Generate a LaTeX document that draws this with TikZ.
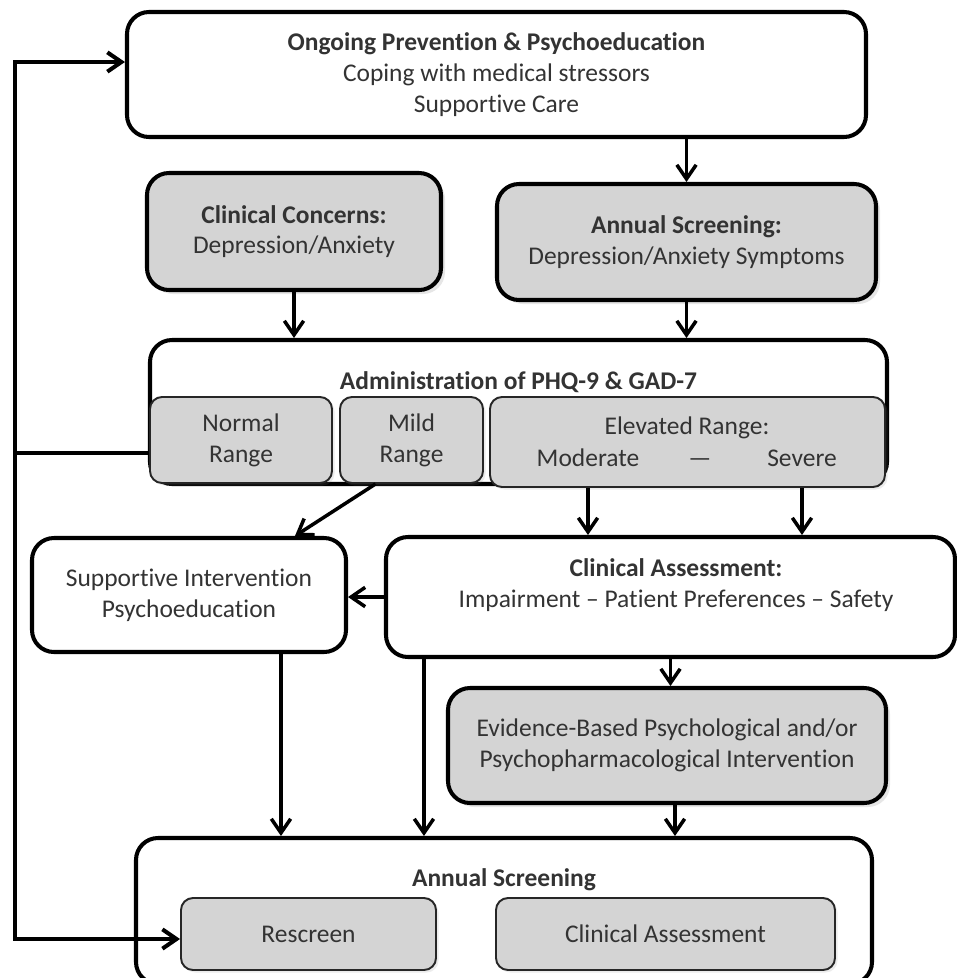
\documentclass[tikz,border=0pt]{standalone}
\usepackage{fontspec}
\setmainfont{Carlito}[Ligatures={TeX,NoCommon}]
\usetikzlibrary{arrows.meta, positioning, shadows}
\definecolor{boxgray}{RGB}{212,212,212}
\tikzset{
>={Straight Barb[length=8pt, width=11pt]}, % open arrow heads
boxsize/.style 2 args={minimum width=#1*0.02cm, minimum height=#2*0.02cm}, % size in pixels
every node/.style={font=\fontsize{14.5}{17.5}\selectfont, text=black!80},
bigbox/.style={draw=black, line width=2.3pt, rounded corners=0.44cm, fill=white, align=center, inner sep=0pt},
graybox/.style={bigbox, fill=boxgray, drop shadow={opacity=0.2, shadow xshift=0.08cm, shadow yshift=-0.08cm}}, % shaded main boxes
rangebox/.style={draw=black!85, line width=1.1pt, rounded corners=0.24cm, fill=boxgray, align=center, inner sep=0pt, drop shadow={opacity=0.15, shadow xshift=0.05cm, shadow yshift=-0.05cm}},
flow/.style={->, line width=2pt},
}

\begin{document}
\begin{tikzpicture}[x=0.02cm, y=-0.02cm]%one unit is one pixel of the page
  \useasboundingbox (0,0) rectangle (957,978);

  \node[bigbox, boxsize={739}{125}] (prevent) at (496.5,74.5) {\textbf{Ongoing Prevention \& Psychoeducation}\\Coping with medical stressors\\Supportive Care};
  \node[graybox, boxsize={294}{117}] (concerns) at (294,231.5) {\textbf{Clinical Concerns:}\\Depression/Anxiety};
  \node[graybox, boxsize={379}{116}] (annual) at (686.5,242) {\textbf{Annual Screening:}\\Depression/Anxiety Symptoms};

  % screening with its three ranges
  \node[bigbox, boxsize={737}{144}] (admin) at (518.5,412) {};
  \node (admintitle) at (518.5,382) {\textbf{Administration of PHQ-9 \& GAD-7}};
  \node[rangebox, boxsize={182}{86}] (normal) at (241,440) {Normal\\Range};
  \node[rangebox, boxsize={143}{86}] (mild) at (411.5,440) {Mild\\Range};
  \node[rangebox, boxsize={395}{90}] (elevated) at (687.5,442) {};
  \node (elevtitle) at (687,428) {Elevated Range:};
  \node[anchor=base] (moderate) at (588,466) {Moderate};
  \node[anchor=base] (dash) at (700,466) {—};
  \node[anchor=base] (severe) at (802,466) {Severe};

  \node[bigbox, boxsize={314}{114}] (support) at (189,595) {Supportive Intervention\\Psychoeducation};
  \node[bigbox, boxsize={569}{120}] (assess) at (670.5,597) {};
  \node[align=center] (assesstext) at (676,585) {\textbf{Clinical Assessment:}\\Impairment – Patient Preferences – Safety};
  \node[graybox, boxsize={438}{115}] (evidence) at (667,745.5) {Evidence-Based Psychological and/or\\Psychopharmacological Intervention};

  % yearly screening at the bottom
  \node[bigbox, boxsize={736}{146}] (final) at (504,911) {};
  \node (finaltitle) at (504,880) {\textbf{Annual Screening}};
  \node[rangebox, boxsize={255}{72}] (rescreen) at (308.5,934) {Rescreen};
  \node[rangebox, boxsize={339}{72}] (reassess) at (665.5,934) {Clinical Assessment};

  \coordinate (supportout) at ([xshift=1.84cm]support.south);
  \coordinate (assessout) at ([xshift=0.8cm]assess.south west);
  \coordinate (evidenceout) at ([xshift=0.16cm]evidence.south);
  \coordinate (rail) at (15,453);

  \draw[flow] (prevent.south -| annual.north) -- (annual.north);
  \draw[flow] (concerns.south) -- (concerns.south |- admin.north);
  \draw[flow] (annual.south) -- (annual.south |- admin.north);
  \draw[flow] (moderate |- elevated.south) -- (moderate |- assess.north);
  \draw[flow] (severe |- elevated.south) -- (severe |- assess.north);
  \draw[flow] ([xshift=-0.72cm]mild.south) -- ([xshift=2.12cm]support.north);
  \draw[flow] (assess.west) -- (assess.west -| support.east);
  \draw[flow] (assess.south) -- (assess.south |- evidence.north);
  \draw[flow] (supportout) -- (supportout |- final.north);
  \draw[flow] (assessout) -- (assessout |- final.north);
  \draw[flow] (evidenceout) -- (evidenceout |- final.north);

  % back to prevention and rescreening
  \draw[line width=2.3pt] (rail -| normal.west) -- (rail);
  \draw[flow, line width=2.3pt] (rail) |- ([yshift=0.25cm]prevent.west);
  \draw[flow, line width=2.3pt] (rail) |- ([yshift=-0.1cm]rescreen.west);
\end{tikzpicture}
\end{document}
